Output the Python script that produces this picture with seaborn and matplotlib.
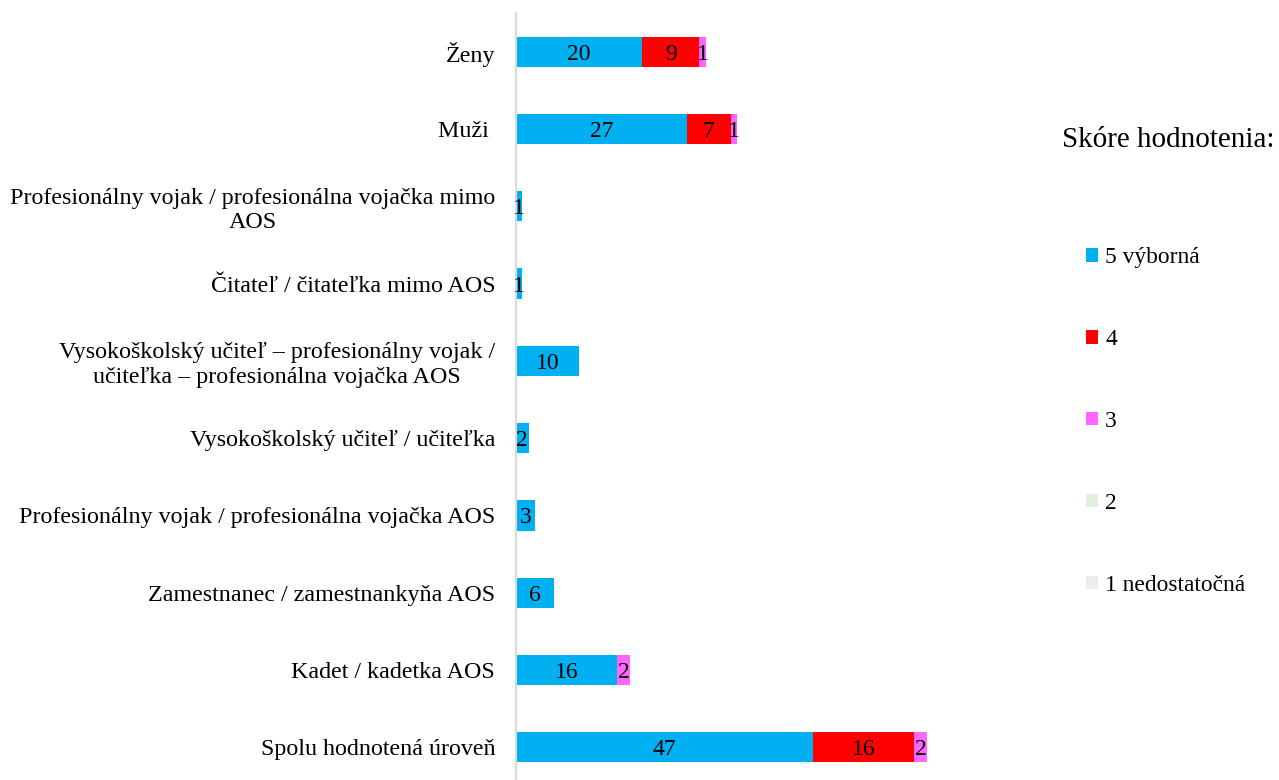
import matplotlib
matplotlib.use("Agg")
import matplotlib.pyplot as plt
import seaborn as sns
import pandas as pd
import numpy as np
from matplotlib.patches import Patch

categories = [
    "Ženy",
    "Muži ",
    "Profesionálny vojak / profesionálna vojačka mimo\nAOS",
    "Čitateľ / čitateľka mimo AOS",
    "Vysokoškolský učiteľ – profesionálny vojak /\nučiteľka – profesionálna vojačka AOS",
    "Vysokoškolský učiteľ / učiteľka",
    "Profesionálny vojak / profesionálna vojačka AOS",
    "Zamestnanec / zamestnankyňa AOS",
    "Kadet / kadetka AOS",
    "Spolu hodnotená úroveň",
]

score_5 = [20, 27, 1, 1, 10, 2, 3, 6, 16, 47]
score_4 = [9, 7, 0, 0, 0, 0, 0, 0, 0, 16]
score_3 = [1, 1, 0, 0, 0, 0, 0, 0, 2, 2]
score_2 = [0, 0, 0, 0, 0, 0, 0, 0, 0, 0]
score_1 = [0, 0, 0, 0, 0, 0, 0, 0, 0, 0]

series_names = ["5 výborná", "4", "3", "2", "1 nedostatočná"]
series_values = [score_5, score_4, score_3, score_2, score_1]
series_colors = ["#00B0F0", "#FF0000", "#FF66FF", "#E2EFDA", "#EDEDED"]

FONT = "Liberation Serif"
sns.set_theme(style="white")
plt.rcParams["font.family"] = [FONT, "DejaVu Serif"]
plt.rcParams["text.color"] = "black"

fig = plt.figure(figsize=(12.79, 7.80), dpi=100)
W, H = 1279, 780
left_px, right_px, top_px, bottom_px = 516, 1040, 13, 786
ax = fig.add_axes([left_px / W, (H - bottom_px) / H,
                   (right_px - left_px) / W, (bottom_px - top_px) / H])

# Stack by overlaying cumulative totals, widest (all scores) first
cum = np.cumsum(np.array(series_values), axis=0)
for k in range(len(series_names) - 1, -1, -1):
    tmp = pd.DataFrame({"category": categories, "value": cum[k]})
    sns.barplot(data=tmp, y="category", x="value", orient="h",
                color=series_colors[k], saturation=1, width=0.39,
                linewidth=0, ax=ax, order=categories)

# Segment value labels centred in each segment
starts = np.vstack([np.zeros(len(categories)), cum[:-1]])
for k, vals in enumerate(series_values):
    for i, v in enumerate(vals):
        if v > 0:
            ax.text(starts[k][i] + v / 2, i, str(v), ha="center",
                    va="center_baseline", fontsize=17, color="black",
                    family=FONT)

ax.set_xlim(0, (right_px - left_px) / 6.32)
ax.set_ylim(len(categories) - 0.5, -0.5)
ax.set_xlabel("")
ax.set_ylabel("")
ax.set_xticks([])
for s in ["top", "right", "bottom"]:
    ax.spines[s].set_visible(False)
ax.spines["left"].set_color("#D9D9D9")
ax.spines["left"].set_linewidth(1.5)
ax.tick_params(axis="y", length=0, pad=15)
for lbl in ax.get_yticklabels():
    lbl.set_fontsize(17.3)
    lbl.set_family(FONT)
    lbl.set_multialignment("center")
    lbl.set_color("black")

fig.text(1062 / W, 1 - 140 / H, "Skóre hodnotenia:", fontsize=21, family=FONT,
         va="center", ha="left", color="black")

handles = [Patch(facecolor=c, edgecolor="none") for c in series_colors]
leg = fig.legend(handles, series_names, loc="upper left",
                 bbox_to_anchor=(1077 / W, 1 - 238 / H), frameon=False,
                 prop={"family": FONT, "size": 16.9}, handlelength=0.5,
                 handleheight=0.5, handletextpad=0.3, labelspacing=2.59,
                 borderaxespad=0, labelcolor="black")

fig.savefig("out.png", dpi=100, facecolor="white")
